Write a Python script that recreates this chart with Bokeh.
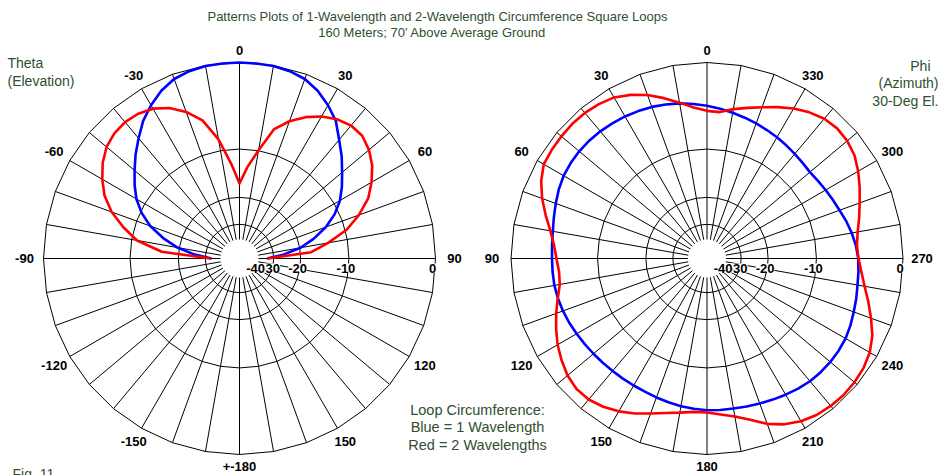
import math
from bokeh.plotting import figure
from bokeh.models import Range1d, Label
from bokeh.core.properties import value
from bokeh.embed import file_html
from bokeh.resources import INLINE

# ---------------- data ----------------
# Elevation (theta) pattern, -90..90 deg in 5 deg steps, dB
elev_angles = list(range(-90, 95, 5))
elev_blue_db = [-33.4, -25.26, -19.48, -15.59, -12.43, -10.23, -8.56, -7.31, -6.15, -4.94,
                -3.81, -2.65, -1.75, -0.99, -0.44, -0.18, -0.04, -0.02, 0.0, -0.02,
                -0.04, -0.18, -0.44, -0.99, -1.75, -2.65, -4.03, -5.23, -6.53, -7.72,
                -9.00, -10.71, -12.98, -16.04, -19.75, -25.64, -33.58]
elev_red_db = [-32.8, -15.81, -10.88, -8.42, -6.27, -4.71, -3.65, -2.75, -2.09, -1.75,
               -1.65, -1.78, -2.14, -2.85, -3.92, -5.41, -8.28, -12.43, -16.49, -12.98,
               -9.91, -6.53, -5.05, -3.92, -3.06, -2.44, -2.09, -2.09, -2.54, -3.27,
               -4.31, -5.53, -7.45, -9.76, -13.36, -17.19, -33.4]

# Azimuth (phi) pattern at 30 deg elevation, 0..355 deg in 5 deg steps, dB
az_angles = list(range(0, 360, 5))
az_blue_db = [-4.28, -4.01, -3.75, -3.54, -3.34, -3.20, -3.06, -2.95, -2.85, -2.79,
              -2.77, -2.81, -2.90, -3.11, -3.38, -3.64, -3.86, -3.97, -4.03, -4.03,
              -4.03, -4.11, -4.22, -4.36, -4.53, -4.68, -4.80, -4.89, -4.96, -4.98,
              -4.98, -4.94, -4.84, -4.73, -4.59, -4.49, -4.40, -4.36, -4.32, -4.23,
              -4.11, -3.95, -3.78, -3.60, -3.46, -3.40, -3.38, -3.41, -3.48, -3.67,
              -3.90, -4.08, -4.27, -4.36, -4.45, -4.65, -4.94, -5.27, -5.65, -5.92,
              -6.15, -6.34, -6.48, -6.37, -6.21, -6.00, -5.78, -5.56, -5.32, -5.08,
              -4.82, -4.56]
az_red_db = [-4.86, -4.41, -3.67, -2.85, -2.04, -1.41, -0.90, -0.67, -0.53, -0.49,
             -0.53, -0.58, -0.67, -1.18, -1.90, -2.75, -3.59, -4.19, -4.53, -4.76,
             -4.65, -4.08, -3.43, -2.80, -2.19, -1.70, -1.27, -1.04, -1.08, -1.37,
             -1.80, -2.34, -2.96, -3.48, -3.86, -4.14, -4.14, -3.86, -3.43, -2.75,
             -1.85, -1.18, -0.72, -0.44, -0.31, -0.26, -0.31, -0.44, -0.72, -1.23,
             -1.99, -2.75, -3.48, -4.03, -4.42, -4.53, -4.25, -3.75, -3.22, -2.60,
             -1.99, -1.46, -1.18, -1.08, -1.23, -1.61, -2.12, -2.75, -3.38, -3.92,
             -4.40, -4.94]

# tick labels
angle_tick_pos = list(range(0, 360, 30))
elev_tick_labels = ["0", "30", "60", "90", "120", "150", "+-180", "-150", "-120", "-90", "-60", "-30"]
az_tick_labels = ["0", "30", "60", "90", "120", "150", "180", "210", "240", "270", "300", "330"]
db_rings = [0, -10, -20, -30]
db_tick_values = [0, -10, -20, -30, -40]
db_tick_labels = ["0", "-10", "-20", "-30", "-40"]

title_lines = ["Patterns Plots of 1-Wavelength and 2-Wavelength Circumference Square Loops",
               "160 Meters; 70' Above Average Ground"]
legend_lines = ["Loop Circumference:", "Blue = 1 Wavelength", "Red = 2 Wavelengths"]

# ---------------- layout ----------------
W, H = 939, 475
R = 196.0
CL = (239.0, 258.0)
CR = (706.5, 258.0)
GREEN = "#2F4F2F"
FONT = "Liberation Sans"


def rad(db):
    # ARRL log-periodic radial scale
    return R * 0.89 ** (-db / 2.0)


p = figure(width=W, height=H, x_range=Range1d(0, W), y_range=Range1d(H, 0),
           output_backend="svg", toolbar_location=None, min_border=0,
           x_axis_type=None, y_axis_type=None)
p.outline_line_color = None
p.background_fill_color = "white"
p.border_fill_color = "white"


def draw_grid(cx, cy):
    r0 = rad(-40)
    x0, y0, x1, y1 = [], [], [], []
    for a in range(0, 360, 10):
        s, c = math.sin(math.radians(a)), math.cos(math.radians(a))
        x0.append(cx + r0 * s); y0.append(cy - r0 * c)
        x1.append(cx + R * s); y1.append(cy - R * c)
    p.segment(x0, y0, x1, y1, line_color="black", line_width=1)
    xs, ys = [], []
    for db in db_rings:
        rr = rad(db)
        xs.append([cx + rr * math.sin(math.radians(a)) for a in range(0, 370, 10)])
        ys.append([cy - rr * math.cos(math.radians(a)) for a in range(0, 370, 10)])
    p.multi_line(xs, ys, line_color="black", line_width=1)


draw_grid(*CL)
draw_grid(*CR)


def elev_xy(angles, dbs, cx, cy):
    xs = [cx + rad(d) * math.sin(math.radians(t)) for t, d in zip(angles, dbs)]
    ys = [cy - rad(d) * math.cos(math.radians(t)) for t, d in zip(angles, dbs)]
    return xs, ys


def az_xy(angles, dbs, cx, cy):
    a2 = list(angles) + [angles[0]]
    d2 = list(dbs) + [dbs[0]]
    xs = [cx - rad(d) * math.sin(math.radians(t)) for t, d in zip(a2, d2)]
    ys = [cy - rad(d) * math.cos(math.radians(t)) for t, d in zip(a2, d2)]
    return xs, ys


for dbs, col in [(elev_blue_db, "#0000FF"), (elev_red_db, "#FF0000")]:
    xs, ys = elev_xy(elev_angles, dbs, *CL)
    p.line(xs, ys, line_color=col, line_width=2.6, line_join="round")
for dbs, col in [(az_blue_db, "#0000FF"), (az_red_db, "#FF0000")]:
    xs, ys = az_xy(az_angles, dbs, *CR)
    p.line(xs, ys, line_color=col, line_width=2.6, line_join="round")

# angle tick labels
for (cx, cy), labels, sign in [(CL, elev_tick_labels, 1), (CR, az_tick_labels, -1)]:
    lx, ly = [], []
    for a in angle_tick_pos:
        s, c = math.sin(math.radians(a)), math.cos(math.radians(a))
        rl = R + 12 + 7 * abs(s)
        lx.append(cx + sign * rl * s)
        ly.append(cy - rl * c)
    p.text(lx, ly, text=labels, text_font=value(FONT), text_font_style="bold",
           text_font_size="13px", text_align="center", text_baseline="middle",
           text_color="black")

# dB labels along the horizontal radius (white boxes)
for (cx, cy) in [CL, CR]:
    for db, lab in zip(db_tick_values, db_tick_labels):
        p.add_layout(Label(x=cx + rad(db) - 3, y=cy + 9.5, text=lab,
                           text_font=FONT, text_font_style="bold", text_font_size="13px",
                           text_align="center", text_baseline="middle",
                           background_fill_color="white", text_color="black"))

# texts
p.text([437, 432], [16, 31.5], text=title_lines, text_font=value(FONT),
       text_font_size="13px", text_align="center", text_baseline="middle", text_color=GREEN)
p.text([7, 7], [62, 80], text=["Theta", "(Elevation)"], text_font=value(FONT),
       text_font_size="14px", text_align="left", text_baseline="middle", text_color=GREEN)
p.text([930, 938, 938], [65, 82.5, 100], text=["Phi", "(Azimuth)", "30-Deg El."],
       text_font=value(FONT), text_font_size="14px", text_align="right",
       text_baseline="middle", text_color=GREEN)
p.text([477, 477, 477], [409, 426.5, 444], text=legend_lines, text_font=value(FONT),
       text_font_size="14.5px", text_align="center", text_baseline="middle", text_color=GREEN)
p.text([12], [465], text=["Fig. 11"], text_font=value(FONT), text_font_size="14px",
       text_align="left", text_baseline="top", text_color=GREEN)

open("out.html", "w").write(file_html(p, INLINE))
